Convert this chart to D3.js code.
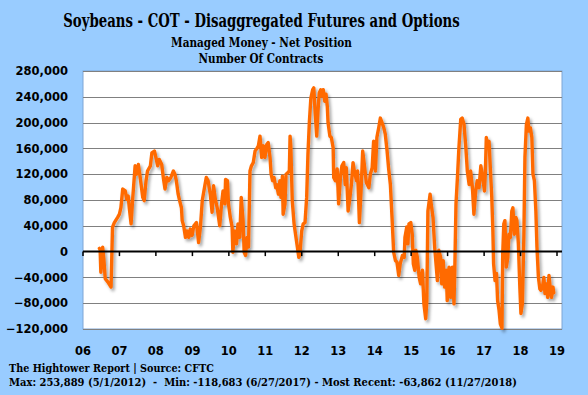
<!DOCTYPE html>
<html><head><meta charset="utf-8">
<script src="https://cdn.jsdelivr.net/npm/d3@7"></script>
<style>
html,body{margin:0;padding:0;background:#99CCFF;}
svg{display:block;}
</style></head>
<body>
<script>
// ---- data (decimal year of report, managed money net position) ----
const yearFrac = [
2006.45,2006.47,2006.49,2006.54,2006.57,2006.61,2006.68,2006.77,2006.81,2006.86,2006.95,2007.00,2007.04,2007.09,2007.16,2007.20,2007.24,2007.27,2007.32,2007.36,
2007.43,2007.47,2007.52,2007.57,2007.64,2007.68,2007.73,2007.77,2007.85,2007.89,2007.96,2008.00,2008.05,2008.09,2008.16,2008.21,2008.25,2008.30,2008.35,2008.41,
2008.48,2008.52,2008.56,2008.61,2008.65,2008.70,2008.72,2008.76,2008.81,2008.85,2008.90,2008.94,2008.99,2009.04,2009.11,2009.17,2009.22,2009.27,2009.34,2009.38,
2009.43,2009.49,2009.54,2009.58,2009.63,2009.68,2009.75,2009.80,2009.84,2009.89,2009.91,2009.96,2009.99,2010.04,2010.09,2010.11,2010.16,2010.21,2010.25,2010.30,
2010.34,2010.39,2010.42,2010.46,2010.50,2010.54,2010.58,2010.62,2010.67,2010.72,2010.76,2010.81,2010.855,2010.90,2010.95,2010.99,2011.04,2011.08,2011.13,2011.16,
2011.20,2011.24,2011.285,2011.31,2011.36,2011.40,2011.43,2011.47,2011.49,2011.54,2011.57,2011.61,2011.66,2011.68,2011.70,2011.74,2011.79,2011.83,2011.88,2011.92,
2011.95,2012.00,2012.04,2012.09,2012.135,2012.17,2012.21,2012.25,2012.30,2012.33,2012.37,2012.41,2012.445,2012.48,2012.52,2012.555,2012.59,2012.63,2012.665,2012.70,
2012.72,2012.77,2012.81,2012.86,2012.875,2012.92,2012.97,2013.01,2013.06,2013.10,2013.15,2013.19,2013.22,2013.27,2013.31,2013.36,2013.405,2013.44,2013.50,2013.53,
2013.58,2013.625,2013.67,2013.715,2013.77,2013.84,2013.88,2013.93,2013.97,2014.02,2014.06,2014.11,2014.155,2014.20,2014.25,2014.29,2014.34,2014.38,2014.43,2014.475,
2014.52,2014.57,2014.61,2014.66,2014.70,2014.76,2014.81,2014.83,2014.88,2014.91,2014.94,2014.99,2015.03,2015.06,2015.10,2015.13,2015.17,2015.22,2015.26,2015.31,
2015.35,2015.40,2015.43,2015.46,2015.52,2015.55,2015.60,2015.645,2015.69,2015.72,2015.76,2015.81,2015.84,2015.88,2015.92,2015.965,2015.99,2016.04,2016.085,2016.13,
2016.175,2016.20,2016.23,2016.27,2016.31,2016.36,2016.40,2016.45,2016.50,2016.54,2016.59,2016.63,2016.68,2016.72,2016.77,2016.81,2016.86,2016.91,2016.96,2017.01,
2017.035,2017.06,2017.10,2017.135,2017.17,2017.21,2017.24,2017.26,2017.30,2017.34,2017.37,2017.41,2017.445,2017.49,2017.51,2017.54,2017.57,2017.61,2017.65,2017.68,
2017.72,2017.76,2017.79,2017.83,2017.87,2017.90,2017.94,2017.98,2018.01,2018.05,2018.09,2018.12,2018.16,2018.20,2018.23,2018.27,2018.31,2018.34,2018.38,2018.42,
2018.45,2018.49,2018.53,2018.56,2018.60,2018.64,2018.67,2018.71,2018.745,2018.78,2018.82,2018.85,2018.89,2018.91
];
const netPosition = [
5000,3000,-32000,7000,-10000,-42000,-47000,-55000,38000,45000,53000,58000,68000,97000,94000,81000,86000,68000,43000,79000,
133000,120000,135000,115000,84000,79000,110000,125000,133000,153000,156000,146000,133000,143000,135000,112000,97000,115000,110000,115000,
125000,120000,110000,89000,79000,68000,48000,40000,22000,32000,22000,35000,25000,40000,45000,14000,38000,79000,102000,115000,
110000,89000,61000,102000,81000,68000,40000,74000,94000,74000,112000,110000,74000,53000,38000,-1000,32000,12000,43000,22000,
84000,48000,-1000,-6000,22000,7000,125000,133000,138000,156000,159000,164000,179000,146000,164000,146000,166000,169000,146000,120000,
110000,115000,99000,104000,89000,110000,84000,117000,58000,74000,120000,122000,125000,179000,164000,79000,43000,27000,7000,-9000,
-4000,32000,43000,45000,84000,151000,202000,238000,251000,253889,213000,179000,218000,246000,251000,241000,251000,233000,244000,225000,
200000,179000,177000,161000,115000,110000,128000,74000,115000,133000,138000,104000,130000,63000,79000,104000,138000,125000,110000,125000,
45000,94000,156000,135000,107000,99000,120000,130000,171000,125000,177000,192000,207000,200000,192000,182000,156000,130000,104000,53000,
-1000,-14000,-16000,-37000,-19000,-6000,-9000,22000,38000,12000,43000,45000,27000,-19000,-29000,2000,-9000,-40000,-50000,-29000,
-81000,-104000,-76000,63000,89000,74000,53000,7000,-24000,-45000,2000,-9000,-50000,-14000,-55000,-29000,-76000,-24000,-71000,-24000,
-81000,-19000,74000,115000,161000,205000,207000,197000,161000,125000,104000,125000,99000,58000,94000,110000,99000,133000,115000,94000,
125000,177000,161000,171000,130000,84000,32000,-19000,-45000,-34000,-76000,-91000,-112000,-118683,-4000,43000,48000,-24000,-9000,27000,
22000,63000,68000,27000,53000,48000,12000,-55000,-96000,-81000,22000,146000,197000,207000,187000,192000,177000,120000,110000,63000,
7000,-40000,-58000,-60000,-55000,-40000,-65000,-50000,-71000,-37000,-60000,-71000,-55000,-63862
];
const yTicks = [-120000,-80000,-40000,0,40000,80000,120000,160000,200000,240000,280000];
const xTickYears = [2006,2007,2008,2009,2010,2011,2012,2013,2014,2015,2016,2017,2018,2019];
const title = "Soybeans - COT - Disaggregated Futures and Options";
const subtitle1 = "Managed Money - Net Position";
const subtitle2 = "Number Of Contracts";
const footer1 = "The Hightower Report | Source: CFTC";
const footer2 = "Max: 253,889 (5/1/2012)  -  Min: -118,683 (6/27/2017) - Most Recent: -63,862 (11/27/2018)";

// ---- helpers ----
function toDate(y){
  const yr = Math.floor(y);
  const s = new Date(yr,0,1), e = new Date(yr+1,0,1);
  return new Date(+s + (y-yr)*(e-s));
}
const data = yearFrac.map((y,i)=>({date:toDate(y), v:netPosition[i]}));

const W=588,H=395;
const plot = {left:83, right:562, top:71, bottom:329};

const svg = d3.select("body").append("svg").attr("width",W).attr("height",H);

const defs = svg.append("defs");
const f = defs.append("filter").attr("id","shadow").attr("x","-10%").attr("y","-10%").attr("width","120%").attr("height","120%");
f.append("feDropShadow").attr("dx",2).attr("dy",2.5).attr("stdDeviation",1.4)
 .attr("flood-color","#000").attr("flood-opacity",0.35);

svg.append("rect").attr("width",W).attr("height",H).attr("fill","#99CCFF");

const x = d3.scaleTime().domain([new Date(2006,0,1), new Date(2019,0,1)]).range([plot.left, 557]);
const y = d3.scaleLinear().domain([-120000,280000]).range([plot.bottom, plot.top]);

// plot area
svg.append("rect").attr("x",plot.left).attr("y",plot.top)
  .attr("width",plot.right-plot.left).attr("height",plot.bottom-plot.top)
  .attr("fill","#fff").attr("stroke","#7FA6D6").attr("stroke-width",1);

// gridlines
svg.append("g").selectAll("line").data(yTicks.filter(d=>d!==0)).join("line")
  .attr("x1",plot.left).attr("x2",plot.right)
  .attr("y1",d=>Math.round(y(d))+0.5).attr("y2",d=>Math.round(y(d))+0.5)
  .attr("stroke","#808080").attr("stroke-width",1);

// y labels
const fmt = d3.format(",");
svg.append("g").selectAll("text").data(yTicks).join("text")
  .attr("x",68).attr("y",d=>y(d)).attr("dy","0.36em")
  .attr("text-anchor","end")
  .attr("font-family","'DejaVu Sans', Verdana, sans-serif").attr("font-weight","bold")
  .attr("font-size","11.5px").attr("fill","#000")
  .text(d=>fmt(d));

// series line
const line = d3.line().x(d=>x(d.date)).y(d=>y(d.v)).curve(d3.curveLinear);
svg.append("path").datum(data).attr("d",line)
  .attr("fill","none").attr("stroke","#FF6A00").attr("stroke-width",3.4)
  .attr("stroke-linejoin","round").attr("stroke-linecap","round")
  .attr("filter","url(#shadow)");

// zero axis
const y0 = y(0);
svg.append("line").attr("x1",plot.left).attr("x2",plot.right).attr("y1",y0).attr("y2",y0)
  .attr("stroke","#000").attr("stroke-width",2);
svg.append("g").selectAll("line").data(xTickYears).join("line")
  .attr("x1",d=>x(new Date(d,0,1))).attr("x2",d=>x(new Date(d,0,1)))
  .attr("y1",y0).attr("y2",y0+4.5).attr("stroke","#000").attr("stroke-width",1.5);

// x labels
const yfmt = d3.timeFormat("%y");
svg.append("g").selectAll("text").data(xTickYears).join("text")
  .attr("x",d=>x(new Date(d,0,1))).attr("y",354.5)
  .attr("text-anchor","middle")
  .attr("font-family","'DejaVu Sans', Verdana, sans-serif").attr("font-weight","bold")
  .attr("font-size","11.5px").attr("fill","#000")
  .text(d=>yfmt(new Date(d,0,1)));

// titles: serif bold, horizontally scaled to the reference width
const serif = "'DejaVu Serif', 'Liberation Serif', serif";
function fitText(txt, ax, baseline, size, width, anchor){
  const t = svg.append("text").attr("x",0).attr("y",0)
    .attr("text-anchor",anchor||"middle")
    .attr("font-family",serif).attr("font-weight","bold").attr("font-size",size+"px")
    .style("white-space","pre")
    .attr("fill","#000").text(txt);
  const natural = t.node().getComputedTextLength();
  const sx = natural > 0 ? width/natural : 1;
  t.attr("transform",`translate(${ax},${baseline}) scale(${sx},1)`);
  return t;
}
fitText(title, 261.5, 27, 19, 397);
fitText(subtitle1, 261.5, 46.5, 13.5, 181);
fitText(subtitle2, 261, 63, 13.5, 125);
fitText(footer1, 9, 371.5, 11.5, 205, "start");
fitText(footer2, 9, 385.5, 11.5, 508, "start");
</script>
</body></html>
